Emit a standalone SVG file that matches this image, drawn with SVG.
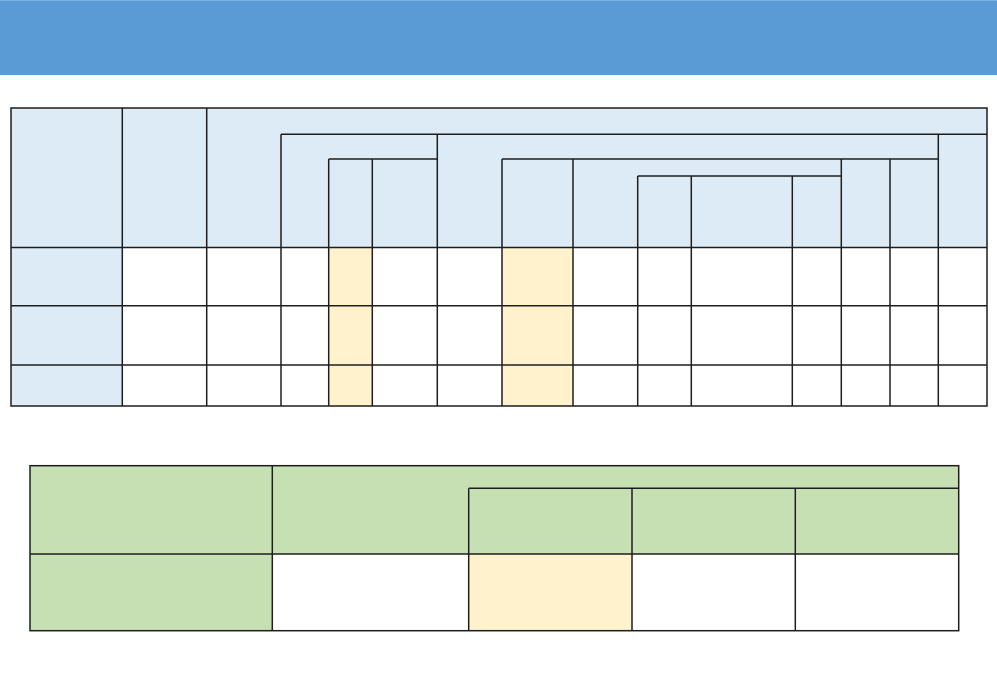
<svg xmlns="http://www.w3.org/2000/svg" width="997" height="690" viewBox="0 0 997 690">
<style>
.hb{fill:#DDEBF7}
.hg{fill:#C6E0B4}
.y{fill:#FFF2CC}
.w{fill:#FFFFFF}
.g line,.g rect.o{stroke:#1e1e1e;stroke-width:1.5;fill:none}
</style>
<rect x="0" y="0" width="997" height="690" fill="#FFFFFF"/>
<g id="title-band">
<rect x="0" y="0" width="997" height="75" fill="#5B9BD5"/>
<rect x="0" y="0" width="997" height="1" fill="#7FB0E0"/>
</g>
<g id="table-top">
<rect class="hb" x="11" y="108" width="976" height="139.5"/>
<rect class="hb" x="11" y="247.5" width="111" height="158.5"/>
<rect class="y" x="328.7" y="247.5" width="43.6" height="158.5"/>
<rect class="y" x="502" y="247.5" width="71" height="158.5"/>
<g class="g">
<rect class="o" x="11" y="108" width="976" height="298"/>
<line x1="11" y1="247.5" x2="987" y2="247.5"/>
<line x1="11" y1="305.7" x2="987" y2="305.7"/>
<line x1="11" y1="365" x2="987" y2="365"/>
<line x1="122.3" y1="108" x2="122.3" y2="406"/>
<line x1="206.7" y1="108" x2="206.7" y2="406"/>
<line x1="281" y1="134.3" x2="987" y2="134.3"/>
<line x1="281" y1="134.3" x2="281" y2="406"/>
<line x1="437.3" y1="134.3" x2="437.3" y2="406"/>
<line x1="938.3" y1="134.3" x2="938.3" y2="406"/>
<line x1="328.7" y1="159" x2="437.3" y2="159"/>
<line x1="502" y1="159" x2="938.3" y2="159"/>
<line x1="328.7" y1="159" x2="328.7" y2="406"/>
<line x1="372.3" y1="159" x2="372.3" y2="406"/>
<line x1="502" y1="159" x2="502" y2="406"/>
<line x1="573" y1="159" x2="573" y2="406"/>
<line x1="841.3" y1="159" x2="841.3" y2="406"/>
<line x1="890" y1="159" x2="890" y2="406"/>
<line x1="637.7" y1="176" x2="841.3" y2="176"/>
<line x1="637.7" y1="176" x2="637.7" y2="406"/>
<line x1="691.3" y1="176" x2="691.3" y2="406"/>
<line x1="792.3" y1="176" x2="792.3" y2="406"/>
</g>
</g>
<g id="table-bottom">
<rect class="hg" x="30" y="465.7" width="928.7" height="88.3"/>
<rect class="hg" x="30" y="554" width="242.3" height="76.7"/>
<rect class="y" x="468.7" y="554" width="163.3" height="76.7"/>
<g class="g">
<rect class="o" x="30" y="465.7" width="928.7" height="165"/>
<line x1="30" y1="554" x2="958.7" y2="554"/>
<line x1="272.3" y1="465.7" x2="272.3" y2="630.7"/>
<line x1="468.7" y1="488.3" x2="958.7" y2="488.3"/>
<line x1="468.7" y1="488.3" x2="468.7" y2="630.7"/>
<line x1="632" y1="488.3" x2="632" y2="630.7"/>
<line x1="795.3" y1="488.3" x2="795.3" y2="630.7"/>
</g>
</g>
</svg>
